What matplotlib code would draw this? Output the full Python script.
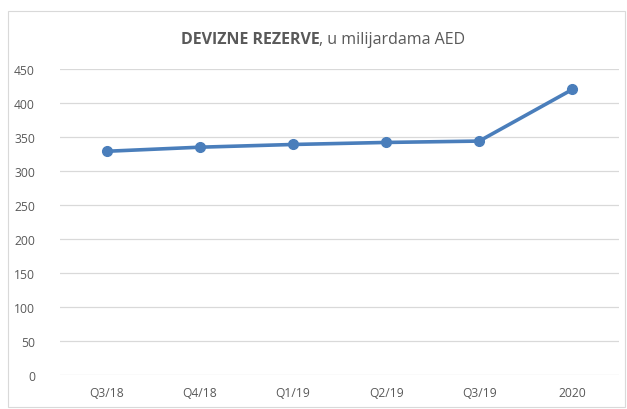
import matplotlib
matplotlib.use("Agg")
import matplotlib.pyplot as plt
from matplotlib.patches import Rectangle

categories = ["Q3/18", "Q4/18", "Q1/19", "Q2/19", "Q3/19", "2020"]
reserves = [329, 335, 339, 342, 344, 420]
y_ticks = [0, 50, 100, 150, 200, 250, 300, 350, 400, 450]

plt.rcParams['font.family'] = ['Open Sans', 'DejaVu Sans']
text_gray = '#595959'
line_blue = '#4A7EBB'

fig = plt.figure(figsize=(6.27, 4.10), dpi=100)
fig.patch.set_facecolor('white')

# outer chart frame
fig.patches.append(Rectangle((8 / 627, 2 / 410), 617 / 627, 396 / 410,
                             transform=fig.transFigure, fill=False,
                             edgecolor='#D9D9D9', linewidth=0.8))

ax = fig.add_axes([60 / 627, 34 / 410, 559 / 627, 306 / 410])
x = list(range(len(categories)))
ax.plot(x, reserves, color=line_blue, linewidth=2.6, marker='o',
        markersize=7, markerfacecolor=line_blue, markeredgecolor=line_blue,
        zorder=3)

ax.set_xlim(-0.5, len(categories) - 0.5)
ax.set_ylim(0, 450)
ax.set_yticks(y_ticks)
ax.set_xticks(x)
ax.set_xticklabels(categories)
ax.grid(axis='y', color='#D9D9D9', linewidth=0.9)
ax.set_axisbelow(True)
for s in ax.spines.values():
    s.set_visible(False)
ax.tick_params(length=0, labelsize=8.7, colors=text_gray, pad=8)
ax.tick_params(axis='y', pad=18)

# title: bold part followed by normal-weight part, centred together
title_y = 1 - 40 / 410
t1 = fig.text(0, title_y, "DEVIZNE REZERVE", fontsize=11.5,
              fontweight='bold', color=text_gray, ha='right', va='center')
t2 = fig.text(0, title_y, ", u milijardama AED", fontsize=11.5,
              color=text_gray, ha='left', va='center')
fig.canvas.draw()
w1 = t1.get_window_extent().width
w2 = t2.get_window_extent().width
split = 323 - (w1 + w2) / 2 + w1
t1.set_position((split / 627, title_y))
t2.set_position((split / 627, title_y))

fig.savefig("out.png", dpi=100)
